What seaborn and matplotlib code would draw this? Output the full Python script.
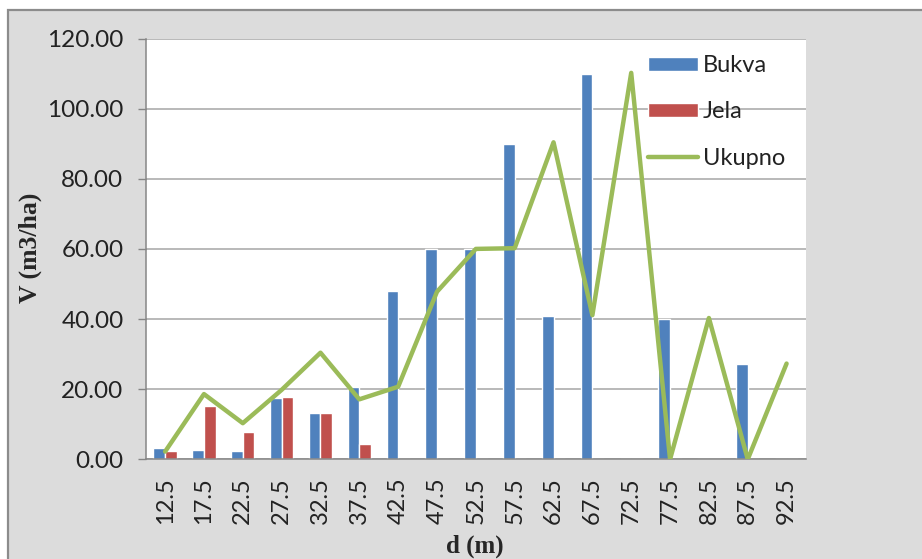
import numpy as np
import pandas as pd
import matplotlib
matplotlib.use("Agg")
import matplotlib.pyplot as plt
from matplotlib.patches import Rectangle, Patch
from matplotlib.lines import Line2D
from matplotlib.ticker import FixedLocator, FormatStrFormatter
import seaborn as sns

# Diameter classes (m) and volumes (m3/ha)
classes = ["12.5", "17.5", "22.5", "27.5", "32.5", "37.5", "42.5", "47.5", "52.5",
           "57.5", "62.5", "67.5", "72.5", "77.5", "82.5", "87.5", "92.5"]
bukva = [3.3, 2.6, 2.3, 17.4, 13.1, 20.5, 48.0, 60.0, 60.0,
         90.0, 40.9, 110.0, 0.0, 40.0, 0.0, 27.2, 0.0]
jela = [2.4, 15.3, 7.9, 17.8, 13.1, 4.4, 0.0, 0.0, 0.0,
        0.0, 0.0, 0.0, 0.0, 0.0, 0.0, 0.0, 0.0]
ukupno = [2.2, 18.6, 10.3, 19.8, 30.4, 17.1, 20.7, 47.8, 60.0,
          60.2, 90.4, 41.1, 110.2, 0.0, 40.3, 0.0, 27.3]

series_names = ["Bukva", "Jela", "Ukupno"]
colors = {"Bukva": "#4F81BD", "Jela": "#C0504D", "Ukupno": "#9BBB59"}

sns.set_style("white")
plt.rcParams["font.family"] = ["Lato", "DejaVu Sans"]

bars = pd.DataFrame({
    "d": classes * 2,
    "V": bukva + jela,
    "vrsta": ["Bukva"] * len(classes) + ["Jela"] * len(classes),
})

W, H = 922, 559
fig = plt.figure(figsize=(W / 100, H / 100), dpi=100, facecolor="white")

# grey chart area with a border on the top and left
fig.add_artist(Rectangle((8 / W, -0.05), 1.1, (H - 10) / H + 0.05,
                         transform=fig.transFigure, facecolor="#dcdcdc",
                         edgecolor="#8c8c8c", linewidth=1.6, zorder=-10))

ax = fig.add_axes([145.7 / W, 1 - 459.3 / H, (806 - 145.7) / W, (459.3 - 38.5) / H])
ax.set_zorder(1)
ax.set_facecolor("white")

sns.barplot(data=bars, x="d", y="V", hue="vrsta", order=classes,
            palette=[colors["Bukva"], colors["Jela"]], width=0.6, gap=0,
            saturation=1, legend=False, ax=ax, zorder=2)
sns.lineplot(x=np.arange(len(classes)), y=ukupno, color=colors["Ukupno"],
             linewidth=3.2, ax=ax, zorder=3)

ax.set_xlim(-0.5, len(classes) - 0.5)
ax.set_ylim(0, 120)
ax.yaxis.set_major_locator(FixedLocator(np.arange(0, 121, 20)))
ax.yaxis.set_major_formatter(FormatStrFormatter("%.2f"))
ax.grid(axis="y", color="#a6a6a6", linewidth=1.1, zorder=0)
ax.grid(axis="x", visible=False)
ax.set_axisbelow(True)

for s in ["top", "right"]:
    ax.spines[s].set_visible(False)
for s in ["left", "bottom"]:
    ax.spines[s].set_color("#868686")
    ax.spines[s].set_linewidth(1.1)

ax.set_xticks(np.arange(len(classes)))
ax.set_xticklabels(classes, rotation=90)
ax.set_xticks(np.arange(-0.5, len(classes)), minor=True)
ax.tick_params(axis="x", which="major", length=0, pad=13, labelsize=17, labelcolor="#222222")
ax.tick_params(axis="x", which="minor", length=5.5, width=1, color="#868686", direction="out")
ax.tick_params(axis="y", length=6, width=1, color="#868686", direction="out", pad=10,
               labelsize=17.5, labelcolor="#222222", left=True)

ax.set_xlabel("d (m)", fontfamily="Liberation Serif", fontweight="bold", fontsize=18)
ax.set_ylabel("V (m3/ha)", fontfamily="Liberation Serif", fontweight="bold", fontsize=18.5)
ax.xaxis.set_label_coords((475 - 145.7) / 660.3, (459.3 - 546) / 420.8)
ax.xaxis.label.set_va("center")
ax.yaxis.set_label_coords((30 - 145.7) / 660.3, 0.502)
ax.yaxis.label.set_va("center")

handles = [Patch(facecolor=colors["Bukva"]), Patch(facecolor=colors["Jela"]),
           Line2D([], [], color=colors["Ukupno"], linewidth=3.2)]
ax.legend(handles, series_names, loc="upper left", bbox_to_anchor=(648 / W, 1 - 55 / H),
          bbox_transform=fig.transFigure, frameon=False, borderpad=0, borderaxespad=0,
          handlelength=2.1, handleheight=0.55, handletextpad=0.22, labelspacing=1.08,
          fontsize=17, labelcolor="#222222")

fig.savefig("out.png", dpi=100, facecolor="white")
